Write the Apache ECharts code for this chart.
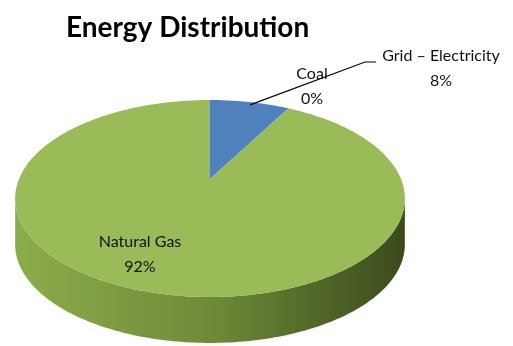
<!DOCTYPE html>
<html><head><meta charset="utf-8">
<script src="https://cdn.jsdelivr.net/npm/echarts@6/dist/echarts.min.js"></script>
<style>html,body{margin:0;padding:0;background:#fff}#c{width:513px;height:346px}</style>
</head><body><div id="c"></div>
<script>
// ---- data ----
const chartTitle = 'Energy Distribution';
const categories = ['Grid – Electricity', 'Coal', 'Natural Gas'];
const values = [8, 0, 92];
const percentLabels = ['8%', '0%', '92%'];

// ---- styles / layout ----
const topColors = ['#4F81BD', '#C0504D', '#9BBB59'];
const sideStops = [
  [['#3E6494', 0], ['#2C4A70', 1]],
  [['#9A3D3A', 0], ['#6E2B29', 1]],
  [['#8DAC4B', 0], ['#6F8B38', 0.5], ['#3B4A1C', 1]]
];
const G = { cx: 210, cy: 179, a: 191, b: 94.6, k: 0.198, h: 46 };
const labelLayout = [
  { x: 441, y: 55 },
  { x: 312, y: 73 },
  { x: 140, y: 241 }
];
const FONT = 'Lato';

function proj(t, r, dy) {
  const u = r * Math.sin(t), v = r * Math.cos(t);
  const w = 1 + G.k * v;
  return [G.cx + G.a * u / w, G.cy - G.b * v / w + (dy || 0)];
}
const total = values.reduce((s, v) => s + v, 0);
function range(i) {
  let acc = 0;
  for (let j = 0; j < i; j++) acc += values[j];
  const s = acc / total * Math.PI * 2;
  return [s, s + values[i] / total * Math.PI * 2];
}
function arc(a, b, r, dy) {
  const pts = [];
  const n = Math.max(2, Math.ceil((b - a) / (Math.PI / 180)));
  for (let i = 0; i <= n; i++) pts.push(proj(a + (b - a) * i / n, r, dy));
  return pts;
}
const visR = Math.acos(-G.k), visL = Math.PI * 2 - visR;

const chart = echarts.init(document.getElementById('c'), null, { renderer: 'canvas' });
const seriesData = values.map((v, i) => ({ name: categories[i], value: v }));

const option = {
  animation: false,
  title: {
    text: chartTitle, left: 61, top: 9,
    textStyle: { fontFamily: FONT, fontSize: 28, fontWeight: 'bold', color: '#000' }
  },
  series: [
    {
      type: 'custom', coordinateSystem: 'none', data: seriesData, z: 1,
      renderItem: function (params, api) {
        const i = params.dataIndex;
        if (api.value(0) <= 0) return null;
        const [s, e] = range(i);
        const a = Math.max(s, visR), b = Math.min(e, visL);
        if (b <= a) return null;
        const pts = arc(a, b, 1, 0).concat(arc(a, b, 1, G.h).reverse());
        return {
          type: 'polygon', shape: { points: pts },
          style: {
            fill: new echarts.graphic.LinearGradient(0, 0, 1, 0,
              sideStops[i].map(([c, o]) => ({ offset: o, color: c }))),
            stroke: null
          }
        };
      }
    },
    {
      type: 'custom', coordinateSystem: 'none', data: seriesData, z: 2,
      renderItem: function (params, api) {
        const i = params.dataIndex;
        const lab = labelLayout[i];
        const children = [];
        if (api.value(0) > 0) {
          const [s, e] = range(i);
          const pts = [proj(0, 0, 0)].concat(arc(s, e, 1, 0));
          children.push({ type: 'polygon', shape: { points: pts }, style: { fill: topColors[i], stroke: null } });
        }
        children.push({
          type: 'text', z2: 10,
          style: {
            x: lab.x, y: lab.y, text: categories[i] + '\n' + percentLabels[i],
            align: 'center', verticalAlign: 'top', fontFamily: FONT, fontSize: 16,
            lineHeight: 25, fill: '#111'
          },
          position: [0, -12]
        });
        if (i === 0) {
          const [s, e] = range(i);
          const p0 = proj((s + e) * 0.52, 0.96, 0);
          children.push({
            type: 'polyline', z2: 10,
            shape: { points: [p0, [365, 62], [376, 62]] },
            style: { stroke: '#000', lineWidth: 1.2, fill: null }
          });
        }
        return { type: 'group', children: children };
      }
    }
  ]
};
chart.setOption(option);
</script></body></html>
